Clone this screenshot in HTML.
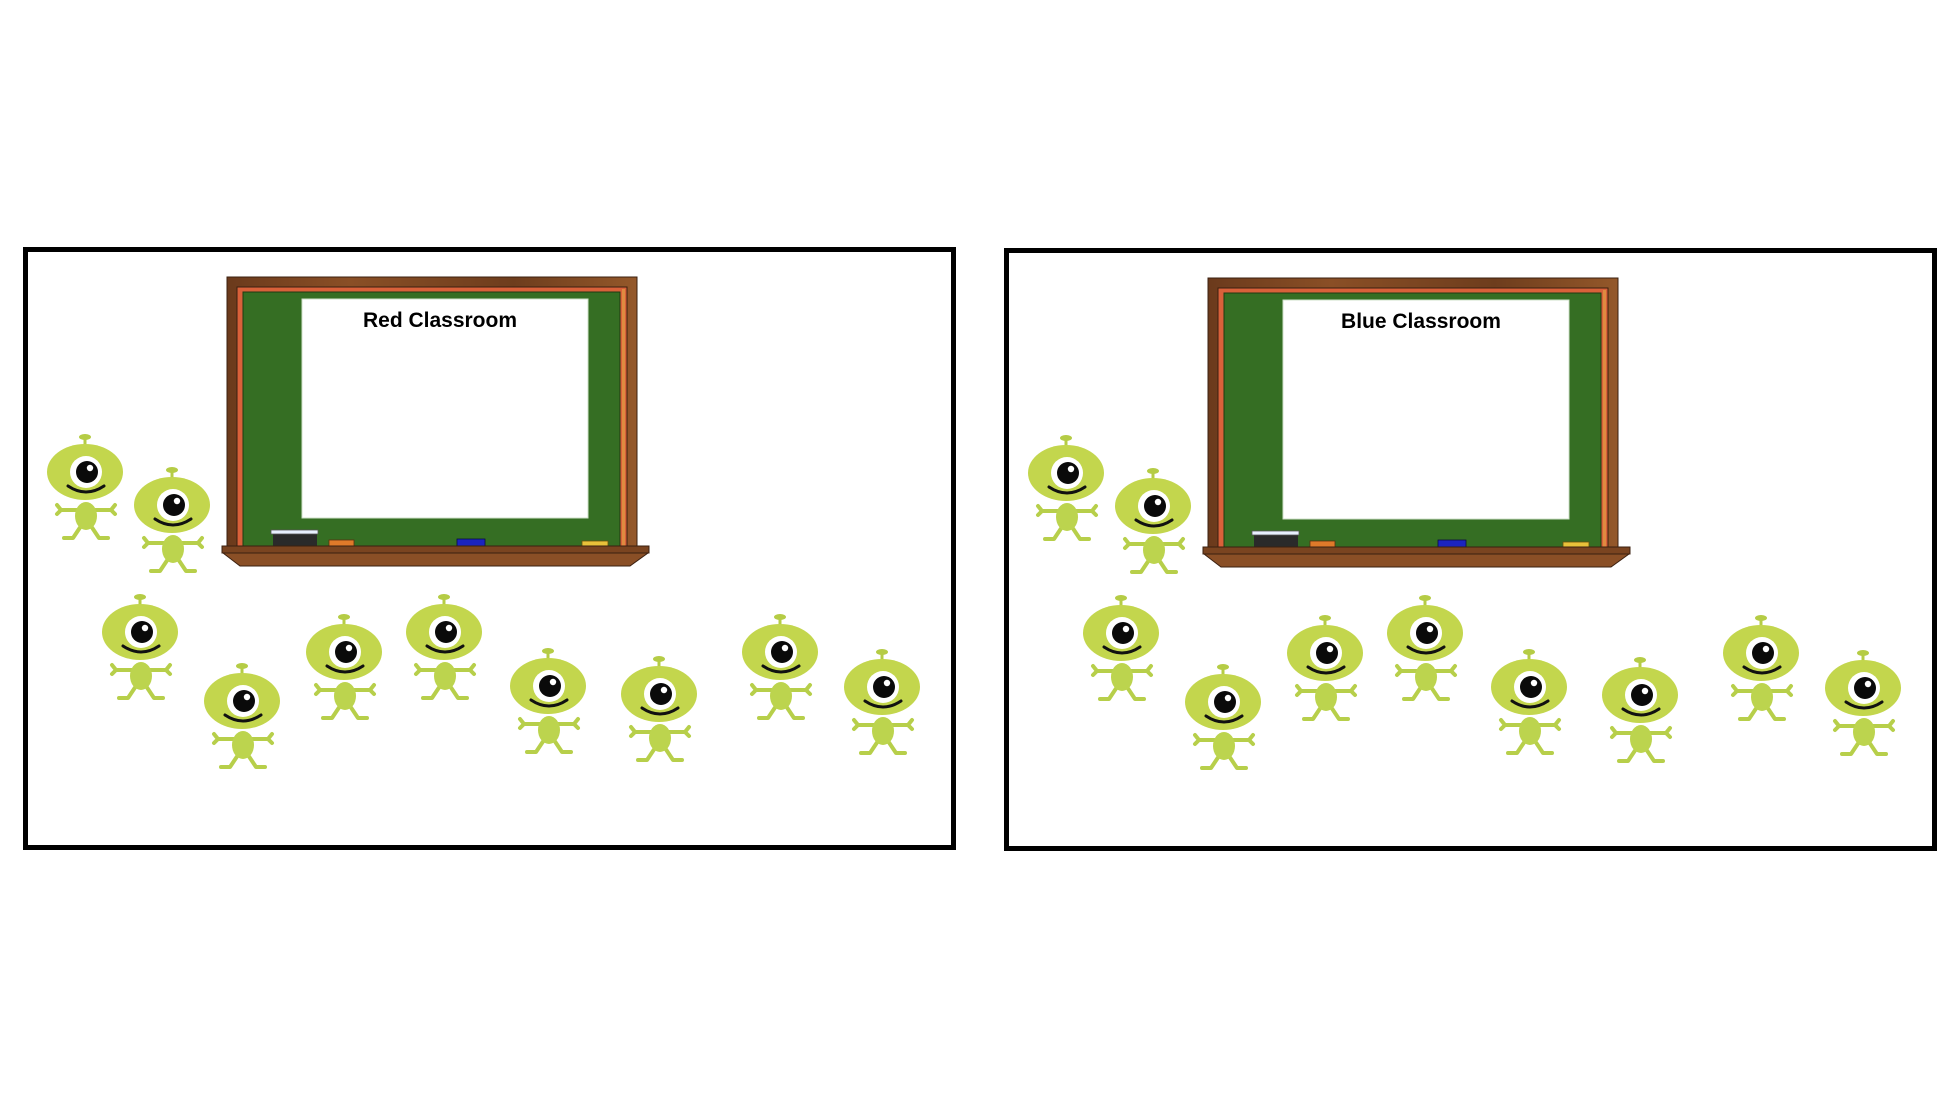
<!DOCTYPE html>
<html>
<head>
<meta charset="utf-8">
<style>
  html,body{margin:0;padding:0;background:#fff;}
  body{width:1956px;height:1096px;overflow:hidden;position:relative;font-family:"Liberation Sans",sans-serif;}
  svg{position:absolute;left:0;top:0;}
</style>
</head>
<body>
<svg id="scene" width="1956" height="1096" viewBox="0 0 1956 1096" xmlns="http://www.w3.org/2000/svg">
  <defs>
    <linearGradient id="wood" x1="0" y1="0" x2="1" y2="0">
      <stop offset="0" stop-color="#6b3a1c"/>
      <stop offset="0.3" stop-color="#8a4f26"/>
      <stop offset="0.7" stop-color="#6e3d1d"/>
      <stop offset="1" stop-color="#94582a"/>
    </linearGradient>
    <g id="alien">
      <rect x="-1.5" y="-33" width="3" height="8" fill="#b5cc45"/>
      <ellipse cx="0" cy="-35" rx="6" ry="3" fill="#b5cc45"/>
      <path d="M-6 38 L-24 38 M-24 38 L-28 33 M-24 38 L-28 42 M8 38 L26 38 M26 38 L30 33 M26 38 L30 42" stroke="#b7cf4a" stroke-width="4" stroke-linecap="round" fill="none"/>
      <path d="M-4 54 L-12 66 L-21 66 M6 54 L14 66 L23 66" stroke="#b7cf4a" stroke-width="4" stroke-linecap="round" stroke-linejoin="round" fill="none"/>
      <ellipse cx="1" cy="44" rx="11" ry="14" fill="#bcd44e"/>
      <ellipse cx="0" cy="0" rx="38" ry="28" fill="#c3d64d"/>
      <circle cx="1" cy="0" r="16" fill="#ffffff"/>
      <circle cx="2" cy="0" r="11" fill="#0a0a0a"/>
      <circle cx="5" cy="-4" r="3.2" fill="#ffffff"/>
      <path d="M-17 14 Q1 26 19 14" stroke="#111" stroke-width="3" fill="none" stroke-linecap="round"/>
    </g>
  </defs>
  <g id="panels"></g>
</svg>
<script>
const classNames = ["Red Classroom", "Blue Classroom"];
const panelOffsetX = [0, 981];
const panelOffsetY = [0, 1];
const alienX = [85, 172, 140, 242, 344, 444, 548, 659, 780, 882];
const alienY = [472, 505, 632, 701, 652, 632, 686, 694, 652, 687];

const NS = "http://www.w3.org/2000/svg";
const root = document.getElementById("panels");
function mk(tag, attrs, parent){
  const e = document.createElementNS(NS, tag);
  for (const k in attrs) e.setAttribute(k, attrs[k]);
  parent.appendChild(e);
  return e;
}
classNames.forEach((name, i) => {
  const g = mk("g", {transform: "translate(" + panelOffsetX[i] + "," + panelOffsetY[i] + ")"}, root);
  
  
  const frame = mk("rect", {x: 25.5, y: 249.5, width: 928, height: 598, fill: "#fff", stroke: "#000", "stroke-width": 5}, g);
  
  

  const board = mk("g", {}, g);
  
  
  mk("rect", {x: 227, y: 277, width: 410, height: 272, fill: "url(#wood)", stroke: "#3b2010", "stroke-width": 1}, board);
  mk("rect", {x: 237, y: 287, width: 390, height: 262, fill: "#d9613a", stroke: "#3b2010", "stroke-width": 1}, board);
  mk("rect", {x: 622, y: 289, width: 3, height: 258, fill: "#e08a40"}, board);
  mk("rect", {x: 243, y: 292, width: 377, height: 256, fill: "#356e23", stroke: "#1f3a12", "stroke-width": 1}, board);
  mk("rect", {x: 302, y: 299, width: 286, height: 219, fill: "#ffffff", stroke: "#cfe0c8", "stroke-width": 1}, board);
  const t = mk("text", {x: 440, y: 327, "text-anchor": "middle", "font-size": 21, "font-weight": "bold", fill: "#000", "font-family": "Liberation Sans, sans-serif"}, board);
  t.textContent = name;
  
  
  mk("rect", {x: 273, y: 533, width: 44, height: 14, fill: "#2a2a2a"}, board);
  mk("rect", {x: 271, y: 530, width: 47, height: 4, fill: "#e8f0ff", stroke: "#555", "stroke-width": 0.8}, board);
  mk("rect", {x: 329, y: 540, width: 25, height: 6, fill: "#e07a2a", stroke: "#5a3010", "stroke-width": 0.8}, board);
  mk("rect", {x: 457, y: 539, width: 28, height: 7, fill: "#1a24c0", stroke: "#0a0a40", "stroke-width": 0.8}, board);
  mk("rect", {x: 582, y: 541, width: 26, height: 5, fill: "#e8c23a", stroke: "#6a5010", "stroke-width": 0.8}, board);
  mk("rect", {x: 222, y: 546, width: 427, height: 7, fill: "#7a4420", stroke: "#3b2010", "stroke-width": 1}, board);
  mk("path", {d: "M223 553 L240 566 L630 566 L648 553 Z", fill: "#8a4f26", stroke: "#3b2010", "stroke-width": 1}, board);

  alienX.forEach((x, j) => {
    const a = mk("use", {href: "#alien", transform: "translate(" + x + "," + alienY[j] + ")"}, g);
    
    
  });
});
</script>
</body>
</html>
